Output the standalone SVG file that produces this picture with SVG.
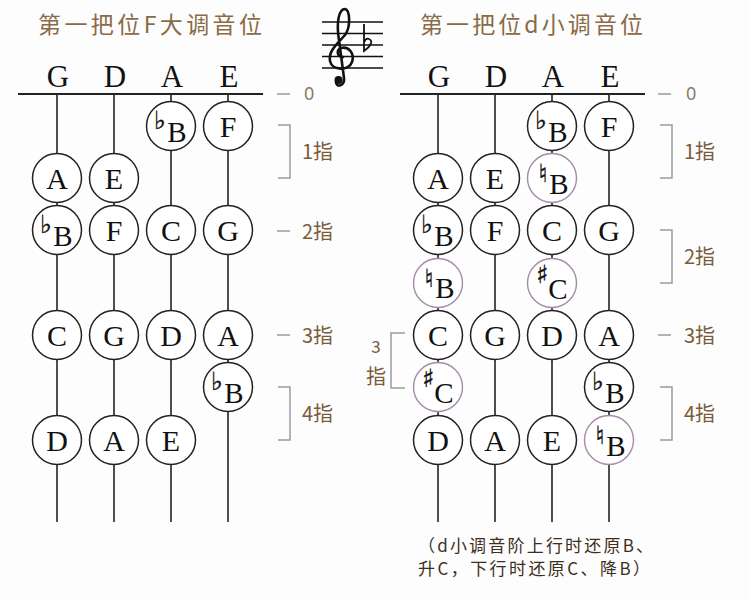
<svg xmlns="http://www.w3.org/2000/svg" width="750" height="600" viewBox="0 0 750 600">
<style>
.str{stroke:#222;stroke-width:1.6}
.nut{stroke:#222;stroke-width:2}
.c{fill:#fff;stroke:#222;stroke-width:1.5}
.p{fill:#fff;stroke:#a58aa8;stroke-width:1.4}
.n{font-family:"Liberation Serif","DejaVu Serif",serif;font-size:30px;fill:#111;text-anchor:middle}
.s{font-family:"Liberation Serif","DejaVu Serif",serif;font-size:29px;fill:#111;text-anchor:middle}
.acc{font-family:"DejaVu Sans","DejaVu Serif",sans-serif;font-size:25px;fill:#111;stroke:#111;stroke-width:0.4;text-anchor:middle}
.hd{font-family:"Liberation Serif","DejaVu Serif",serif;font-size:31px;fill:#111;text-anchor:middle}
.title{font-family:"Noto Sans CJK SC","Noto Sans",sans-serif;font-size:23px;fill:#8b6b47}
.lbl{font-family:"Noto Sans CJK SC","Noto Sans",sans-serif;font-size:20px;fill:#7a5c3a}
.zero{font-family:"Noto Sans","Liberation Sans",sans-serif;font-size:18px;fill:#8a7a6a}
.br{fill:none;stroke:#9a9a9a;stroke-width:1.5}
.note{font-family:"Noto Sans CJK SC","Noto Sans",sans-serif;font-size:17px;fill:#3d2f20}
.staff{stroke:#111;stroke-width:1.6}
</style>
<rect width="750" height="600" fill="#fdfdfe"/>

<!-- Titles -->
<text class="title" x="38" y="33" textLength="224">第一把位F大调音位</text>
<text class="title" x="420" y="33" textLength="223">第一把位d小调音位</text>

<!-- Treble clef with one flat -->
<g id="clef">
<line class="staff" x1="322" y1="22" x2="383" y2="22"/>
<line class="staff" x1="322" y1="33.5" x2="383" y2="33.5"/>
<line class="staff" x1="322" y1="45" x2="383" y2="45"/>
<line class="staff" x1="322" y1="56.5" x2="383" y2="56.5"/>
<line class="staff" x1="322" y1="68" x2="383" y2="68"/>
<path d="M343 57 C337 57,336 50,341 48 C349 46,355 54,352 62 C349 71,332 71,330 61 C328 51,338 43,345 35 C351 27,350 10,345 9 C339 9,336 22,339 40 L344 78 C345 86,336 88,336 82" fill="none" stroke="#111" stroke-width="2.6" stroke-linecap="round"/>
<circle cx="338.5" cy="80" r="4" fill="#111"/>
<path d="M364 24 L364 51 C370 47,374 41,369 39 C367 38,365 40,364 42" fill="none" stroke="#111" stroke-width="1.8"/>
</g>

<!-- LEFT DIAGRAM -->
<g id="left-strings">
<line class="nut" x1="18" y1="94" x2="263" y2="94"/>
<line class="str" x1="57" y1="94" x2="57" y2="522"/>
<line class="str" x1="114" y1="94" x2="114" y2="522"/>
<line class="str" x1="171" y1="94" x2="171" y2="522"/>
<line class="str" x1="228" y1="94" x2="228" y2="522"/>
<text class="hd" x="58" y="87">G</text>
<text class="hd" x="115" y="87">D</text>
<text class="hd" x="172" y="87">A</text>
<text class="hd" x="229" y="87">E</text>
</g>

<g id="L-A1"><circle class="c" cx="171" cy="126" r="24.5"/><text class="acc" x="160" y="129">♭</text><text class="s" x="177" y="142">B</text></g>
<g id="L-E1"><circle class="c" cx="228" cy="126" r="24.5"/><text class="n" x="228" y="137">F</text></g>
<g id="L-G1"><circle class="c" cx="57" cy="178" r="24.5"/><text class="n" x="57" y="189">A</text></g>
<g id="L-D1"><circle class="c" cx="114" cy="178" r="24.5"/><text class="n" x="114" y="189">E</text></g>
<g id="L-G2"><circle class="c" cx="57" cy="230" r="24.5"/><text class="acc" x="46" y="233">♭</text><text class="s" x="63" y="246">B</text></g>
<g id="L-D2"><circle class="c" cx="114" cy="230" r="24.5"/><text class="n" x="114" y="241">F</text></g>
<g id="L-A2"><circle class="c" cx="171" cy="230" r="24.5"/><text class="n" x="171" y="241">C</text></g>
<g id="L-E2"><circle class="c" cx="228" cy="230" r="24.5"/><text class="n" x="228" y="241">G</text></g>
<g id="L-G3"><circle class="c" cx="57" cy="335" r="24.5"/><text class="n" x="57" y="346">C</text></g>
<g id="L-D3"><circle class="c" cx="114" cy="335" r="24.5"/><text class="n" x="114" y="346">G</text></g>
<g id="L-A3"><circle class="c" cx="171" cy="335" r="24.5"/><text class="n" x="171" y="346">D</text></g>
<g id="L-E3"><circle class="c" cx="228" cy="335" r="24.5"/><text class="n" x="228" y="346">A</text></g>
<g id="L-E4"><circle class="c" cx="228" cy="387" r="24.5"/><text class="acc" x="217" y="390">♭</text><text class="s" x="234" y="403">B</text></g>
<g id="L-G4"><circle class="c" cx="57" cy="440" r="24.5"/><text class="n" x="57" y="451">D</text></g>
<g id="L-D4"><circle class="c" cx="114" cy="440" r="24.5"/><text class="n" x="114" y="451">A</text></g>
<g id="L-A4"><circle class="c" cx="171" cy="440" r="24.5"/><text class="n" x="171" y="451">E</text></g>

<g id="left-marks">
<line class="br" x1="277" y1="94" x2="290" y2="94"/>
<text class="zero" x="304" y="100">0</text>
<path class="br" d="M278 125 H290 V178 H278"/>
<text class="lbl" x="302" y="159">1指</text>
<line class="br" x1="277" y1="231" x2="290" y2="231"/>
<text class="lbl" x="302" y="239">2指</text>
<line class="br" x1="277" y1="335" x2="290" y2="335"/>
<text class="lbl" x="302" y="343">3指</text>
<path class="br" d="M278 387 H290 V440 H278"/>
<text class="lbl" x="302" y="421">4指</text>
</g>

<!-- RIGHT DIAGRAM -->
<g id="right-strings">
<line class="nut" x1="400" y1="94" x2="645" y2="94"/>
<line class="str" x1="438" y1="94" x2="438" y2="522"/>
<line class="str" x1="495" y1="94" x2="495" y2="522"/>
<line class="str" x1="552" y1="94" x2="552" y2="522"/>
<line class="str" x1="609" y1="94" x2="609" y2="522"/>
<text class="hd" x="439" y="87">G</text>
<text class="hd" x="496" y="87">D</text>
<text class="hd" x="553" y="87">A</text>
<text class="hd" x="610" y="87">E</text>
</g>

<g id="R-A1"><circle class="c" cx="552" cy="126" r="24.5"/><text class="acc" x="541" y="129">♭</text><text class="s" x="558" y="142">B</text></g>
<g id="R-E1"><circle class="c" cx="609" cy="126" r="24.5"/><text class="n" x="609" y="137">F</text></g>
<g id="R-G1"><circle class="c" cx="438" cy="178" r="24.5"/><text class="n" x="438" y="189">A</text></g>
<g id="R-D1"><circle class="c" cx="495" cy="178" r="24.5"/><text class="n" x="495" y="189">E</text></g>
<g id="R-A1b"><circle class="p" cx="552" cy="178" r="24.5"/><text class="acc" x="543" y="182">♮</text><text class="s" x="559" y="194">B</text></g>
<g id="R-G2"><circle class="c" cx="438" cy="230" r="24.5"/><text class="acc" x="427" y="233">♭</text><text class="s" x="444" y="246">B</text></g>
<g id="R-D2"><circle class="c" cx="495" cy="230" r="24.5"/><text class="n" x="495" y="241">F</text></g>
<g id="R-A2"><circle class="c" cx="552" cy="230" r="24.5"/><text class="n" x="552" y="241">C</text></g>
<g id="R-E2"><circle class="c" cx="609" cy="230" r="24.5"/><text class="n" x="609" y="241">G</text></g>
<g id="R-G2b"><circle class="p" cx="438" cy="283" r="24.5"/><text class="acc" x="429" y="287">♮</text><text class="s" x="445" y="298">B</text></g>
<g id="R-A2b"><circle class="p" cx="552" cy="283" r="24.5"/><text class="acc" x="542" y="283">♯</text><text class="s" x="558" y="299">C</text></g>
<g id="R-G3"><circle class="c" cx="438" cy="335" r="24.5"/><text class="n" x="438" y="346">C</text></g>
<g id="R-D3"><circle class="c" cx="495" cy="335" r="24.5"/><text class="n" x="495" y="346">G</text></g>
<g id="R-A3"><circle class="c" cx="552" cy="335" r="24.5"/><text class="n" x="552" y="346">D</text></g>
<g id="R-E3"><circle class="c" cx="609" cy="335" r="24.5"/><text class="n" x="609" y="346">A</text></g>
<g id="R-G3b"><circle class="p" cx="438" cy="387" r="24.5"/><text class="acc" x="428" y="387">♯</text><text class="s" x="444" y="403">C</text></g>
<g id="R-E4"><circle class="c" cx="609" cy="387" r="24.5"/><text class="acc" x="598" y="390">♭</text><text class="s" x="615" y="403">B</text></g>
<g id="R-G4"><circle class="c" cx="438" cy="440" r="24.5"/><text class="n" x="438" y="451">D</text></g>
<g id="R-D4"><circle class="c" cx="495" cy="440" r="24.5"/><text class="n" x="495" y="451">A</text></g>
<g id="R-A4"><circle class="c" cx="552" cy="440" r="24.5"/><text class="n" x="552" y="451">E</text></g>
<g id="R-E4b"><circle class="p" cx="609" cy="440" r="24.5"/><text class="acc" x="600" y="444">♮</text><text class="s" x="616" y="456">B</text></g>

<g id="right-marks">
<line class="br" x1="658" y1="94" x2="671" y2="94"/>
<text class="zero" x="686" y="100">0</text>
<path class="br" d="M660 125 H672 V178 H660"/>
<text class="lbl" x="684" y="159">1指</text>
<path class="br" d="M660 230 H672 V283 H660"/>
<text class="lbl" x="684" y="264">2指</text>
<line class="br" x1="658" y1="335" x2="671" y2="335"/>
<text class="lbl" x="684" y="343">3指</text>
<path class="br" d="M660 387 H672 V440 H660"/>
<text class="lbl" x="684" y="421">4指</text>
<path class="br" d="M405 333 H391 V388 H405"/>
<text class="lbl" x="376" y="353" text-anchor="middle" style="font-size:17px">3</text>
<text class="lbl" x="376" y="384" text-anchor="middle">指</text>
</g>

<g id="note">
<text class="note" x="418" y="552" textLength="235">（d小调音阶上行时还原B、</text>
<text class="note" x="418" y="575" textLength="232">升C，下行时还原C、降B）</text>
</g>
</svg>
